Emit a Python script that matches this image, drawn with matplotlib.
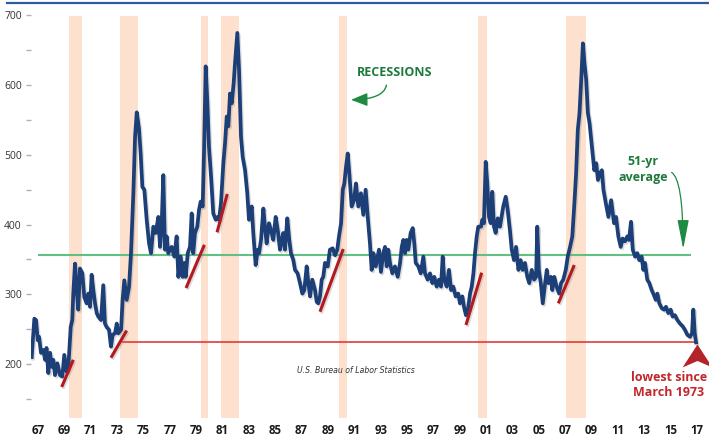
import matplotlib
matplotlib.use("Agg")
import numpy as np
from matplotlib import pyplot as plt
from matplotlib import patheffects
from matplotlib.lines import Line2D
from matplotlib.path import Path

# initial jobless claims, 4-week average (thousands)
dates = [
    1967.07, 1967.27, 1967.40, 1967.53, 1967.63, 1967.78, 1967.96, 1968.09, 1968.20, 1968.34,
    1968.47, 1968.60, 1968.72, 1968.85, 1969.03, 1969.23, 1969.41, 1969.56, 1969.74, 1969.87,
    1970.05, 1970.17, 1970.25, 1970.38, 1970.51, 1970.63, 1970.76, 1970.94, 1971.09, 1971.27,
    1971.40, 1971.53, 1971.65, 1971.78, 1971.91, 1972.04, 1972.16, 1972.37, 1972.54, 1972.67,
    1972.80, 1972.98, 1973.13, 1973.26, 1973.44, 1973.57, 1973.69, 1973.90, 1974.02, 1974.15,
    1974.33, 1974.51, 1974.66, 1974.84, 1974.97, 1975.10, 1975.27, 1975.40, 1975.53, 1975.68,
    1975.86, 1976.04, 1976.19, 1976.37, 1976.55, 1976.75, 1976.88, 1977.00, 1977.13, 1977.26,
    1977.39, 1977.51, 1977.77, 1977.97, 1978.15, 1978.28, 1978.46, 1978.61, 1978.74, 1978.84,
    1979.00, 1979.17, 1979.30, 1979.42, 1979.55, 1979.73, 1979.86, 1979.99, 1980.14, 1980.24,
    1980.37, 1980.50, 1980.62, 1980.78, 1980.95, 1981.14, 1981.29, 1981.39, 1981.54, 1981.72,
    1981.85, 1981.98, 1982.10, 1982.23, 1982.36, 1982.51, 1982.61, 1982.79, 1982.92, 1983.07,
    1983.20, 1983.38, 1983.55, 1983.68, 1983.89, 1984.01, 1984.19, 1984.35, 1984.45, 1984.60,
    1984.78, 1984.90, 1985.03, 1985.21, 1985.36, 1985.54, 1985.72, 1985.88, 1986.05, 1986.18,
    1986.30, 1986.43, 1986.61, 1986.76, 1986.89, 1987.07, 1987.20, 1987.40, 1987.58, 1987.76,
    1987.91, 1988.09, 1988.22, 1988.35, 1988.52, 1988.73, 1988.86, 1988.98, 1989.11, 1989.24,
    1989.36, 1989.49, 1989.70, 1989.87, 1990.08, 1990.26, 1990.43, 1990.56, 1990.72, 1990.85,
    1990.97, 1991.10, 1991.23, 1991.35, 1991.53, 1991.71, 1991.86, 1992.04, 1992.24, 1992.42,
    1992.60, 1992.76, 1992.93, 1993.06, 1993.19, 1993.37, 1993.62, 1993.77, 1993.95, 1994.08,
    1994.21, 1994.33, 1994.46, 1994.64, 1994.84, 1995.05, 1995.23, 1995.36, 1995.48, 1995.61,
    1995.74, 1995.86, 1996.04, 1996.20, 1996.32, 1996.43, 1996.63, 1996.81, 1997.01, 1997.14,
    1997.34, 1997.52, 1997.70, 1997.85, 1998.03, 1998.21, 1998.36, 1998.49, 1998.61, 1998.80,
    1998.97, 1999.13, 1999.30, 1999.48, 1999.68, 1999.81, 1999.99, 2000.14, 2000.27, 2000.45,
    2000.58, 2000.71, 2000.84, 2000.96, 2001.09, 2001.21, 2001.42, 2001.52, 2001.64, 2001.78,
    2001.90, 2002.03, 2002.16, 2002.28, 2002.41, 2002.54, 2002.70, 2002.87, 2003.12, 2003.31,
    2003.46, 2003.63, 2003.77, 2003.94, 2004.10, 2004.28, 2004.45, 2004.61, 2004.78, 2004.96,
    2005.11, 2005.30, 2005.48, 2005.63, 2005.72, 2005.84, 2005.99, 2006.14, 2006.32, 2006.45,
    2006.57, 2006.76, 2006.87, 2007.02, 2007.20, 2007.39, 2007.54, 2007.71, 2007.90, 2008.05,
    2008.23, 2008.40, 2008.56, 2008.69, 2008.82, 2008.95, 2009.08, 2009.21, 2009.33, 2009.46,
    2009.59, 2009.72, 2009.90, 2010.08, 2010.23, 2010.36, 2010.53, 2010.66, 2010.78, 2010.96,
    2011.16, 2011.37, 2011.59, 2011.74, 2011.92, 2012.10, 2012.25, 2012.43, 2012.60, 2012.73,
    2012.89, 2013.02, 2013.20, 2013.37, 2013.52, 2013.70, 2013.83, 2013.96, 2014.13, 2014.29,
    2014.47, 2014.59, 2014.78, 2014.90, 2015.05, 2015.24, 2015.42, 2015.56, 2015.74, 2015.92,
    2016.07, 2016.25, 2016.43, 2016.63, 2016.84, 2017.01, 2017.19, 2017.40, 2017.55, 2017.65,
    2017.76, 2017.86,
]
claims = [
    210, 265, 263, 234, 239, 216, 220, 206, 223, 187,
    216, 196, 206, 184, 201, 184, 182, 213, 189, 196,
    253, 263, 302, 344, 306, 278, 337, 330, 296, 287,
    301, 282, 328, 306, 287, 273, 268, 263, 313, 258,
    253, 249, 225, 242, 244, 258, 244, 249, 292, 320,
    292, 311, 359, 445, 526, 561, 538, 502, 454, 450,
    407, 373, 359, 397, 388, 411, 368, 397, 471, 364,
    383, 359, 368, 354, 383, 325, 354, 325, 345, 325,
    359, 368, 416, 359, 388, 397, 421, 433, 426, 502,
    627, 574, 512, 469, 416, 407, 411, 407, 431, 488,
    517, 555, 541, 588, 574, 603, 631, 675, 622, 526,
    497, 478, 445, 407, 426, 388, 342, 364, 359, 378,
    423, 397, 373, 402, 392, 378, 411, 392, 364, 378,
    388, 364, 409, 378, 359, 349, 335, 330, 316, 301,
    306, 340, 316, 297, 321, 306, 289, 287, 297, 321,
    325, 345, 340, 364, 366, 356, 364, 383, 402, 450,
    459, 483, 502, 474, 426, 435, 459, 426, 445, 414,
    450, 411, 373, 335, 359, 340, 364, 332, 359, 368,
    340, 364, 345, 330, 340, 325, 345, 368, 378, 359,
    378, 364, 388, 395, 373, 345, 340, 330, 354, 330,
    321, 330, 316, 325, 311, 321, 311, 354, 321, 311,
    335, 306, 311, 297, 301, 287, 297, 280, 270, 282,
    301, 311, 330, 359, 383, 397, 397, 407, 402, 490,
    459, 411, 402, 447, 397, 388, 409, 397, 426, 440,
    421, 392, 364, 349, 368, 335, 349, 335, 345, 325,
    316, 335, 321, 325, 397, 335, 316, 287, 316, 335,
    316, 325, 306, 325, 311, 301, 316, 321, 335, 354,
    368, 383, 431, 474, 536, 560, 608, 660, 631, 608,
    560, 545, 512, 478, 488, 464, 474, 478, 450, 431,
    411, 435, 402, 411, 383, 368, 380, 376, 383, 378,
    404, 364, 354, 359, 349, 354, 335, 345, 321, 316,
    306, 301, 292, 301, 287, 280, 278, 282, 273, 278,
    268, 270, 263, 258, 254, 249, 242, 239, 244, 278,
    244, 231,
]

# NBER recessions (start, end)
recession_start = [1969.92, 1973.85, 1980.00, 1981.52, 1990.53, 2001.18, 2007.92]
recession_end = [1970.90, 1975.20, 1980.55, 1982.90, 1991.20, 2001.87, 2009.46]

avg_level = 356
low_level = 231

# red trend lines drawn at each cycle low
trend_x0 = [1969.36, 1973.13, 1978.87, 1981.24, 1989.11, 2000.27, 2007.33]
trend_y0 = [167, 209, 309, 389, 275, 256, 287]
trend_x1 = [1970.25, 1974.33, 1980.27, 1982.02, 1990.89, 2001.47, 2008.55]
trend_y1 = [206, 248, 371, 444, 365, 331, 342]

x_labels = ["67", "69", "71", "73", "75", "77", "79", "81", "83", "85", "87", "89", "91",
            "93", "95", "97", "99", "01", "03", "05", "07", "09", "11", "13", "15", "17"]
y_major = [200, 300, 400, 500, 600, 700]
y_minor = [150, 250, 350, 450, 550, 650]

navy = "#1c3f78"
green_text = "#1d7a3c"
red_text = "#c1272d"
shadow = [patheffects.SimpleLineShadow(offset=(1.0, -1.2), shadow_color="#888888", alpha=0.3),
          patheffects.Normal()]

fig = plt.figure(figsize=(7.09, 4.37), dpi=100)
ax = fig.add_axes([30.8 / 709, 1 - 418 / 437, (705 - 30.8) / 709, (418 - 15.5) / 437])
ax.set_xlim(1967.0, 1967.0 + (705 - 30.8) / 13.08)
ax.set_ylim(122.5, 700)

for start, end in zip(recession_start, recession_end):
    ax.axvspan(start, end, color="#fde1ce", lw=0, zorder=0)

ax.hlines(avg_level, 1967.55, 2017.47, color="#62c083", lw=1.5, zorder=2)
ax.hlines(low_level, 1973.95, 2017.75, color="#dd3c3c", lw=1.2, zorder=2)

for x0, y0, x1, y1 in zip(trend_x0, trend_y0, trend_x1, trend_y1):
    ax.plot([x0, x1], [y0, y1], color="#b3191f", lw=2.2, solid_capstyle="butt", zorder=4,
            path_effects=shadow)

ax.plot(dates, claims, color=navy, lw=2.7, solid_joinstyle="round", zorder=3, path_effects=shadow)

# arrowhead marker under the last point
arrow_marker = Path([(0, 0), (0.65, -1), (0, -0.72), (-0.65, -1), (0, 0)],
                    [Path.MOVETO, Path.LINETO, Path.LINETO, Path.LINETO, Path.CLOSEPOLY])
ax.plot([dates[-1] + 0.07], [low_level - 2], marker=arrow_marker, ms=33, color="#b5232a",
        mew=0, clip_on=False, zorder=5)

ax.set_xticks(np.linspace(1967.55, 2017.93, len(x_labels)))
ax.set_xticklabels(x_labels, fontfamily="Open Sans", fontweight="bold", fontsize=8.3, color="#1a1a1a")
ax.tick_params(axis="x", length=0, pad=4)
ax.set_yticks(y_major)
ax.set_yticks(y_minor, minor=True)
ax.set_yticklabels([str(v) for v in y_major], fontfamily="Open Sans", fontsize=7.5, color="#333333")
ax.tick_params(axis="y", which="both", length=3.5, width=1, color="#b0b0b0", pad=3)
for s in ax.spines.values():
    s.set_visible(False)

ax.text(1994.84, 618, "RECESSIONS", ha="center", va="center", fontfamily="Open Sans",
        fontweight="bold", fontsize=9, color=green_text)
ax.annotate("", xy=(1991.27, 579), xytext=(1994.21, 604),
            arrowprops=dict(arrowstyle="-|>,head_length=1.0,head_width=0.4", mutation_scale=10,
                            color="#1e8a43", lw=1, connectionstyle="angle3,angleA=90,angleB=0"))

ax.text(2013.8, 479, "51-yr\naverage", ha="center", va="center", fontfamily="Open Sans",
        fontweight="bold", fontsize=9, color=green_text, linespacing=1.35)
ax.annotate("", xy=(2016.88, 361), xytext=(2015.79, 476),
            arrowprops=dict(arrowstyle="-|>,head_length=1.8,head_width=0.35", mutation_scale=10,
                            color="#1e8a43", lw=0.9, connectionstyle="angle3,angleA=0,angleB=90"))

ax.text(2015.79, 170, "lowest since\nMarch 1973", ha="center", va="center", fontfamily="Open Sans",
        fontweight="bold", fontsize=9, color=red_text, linespacing=1.2, clip_on=False)

ax.text(1991.86, 190, "U.S. Bureau of Labor Statistics", ha="center", va="center",
        fontfamily=["Liberation Sans Narrow", "DejaVu Sans"], fontstyle="italic", fontsize=5.6,
        color="#333333")

fig.add_artist(Line2D([7 / 709, 1.0], [1 - 2.7 / 437, 1 - 2.7 / 437], color="#2c5c9c", lw=1.6))

fig.savefig("out.png", dpi=100)
